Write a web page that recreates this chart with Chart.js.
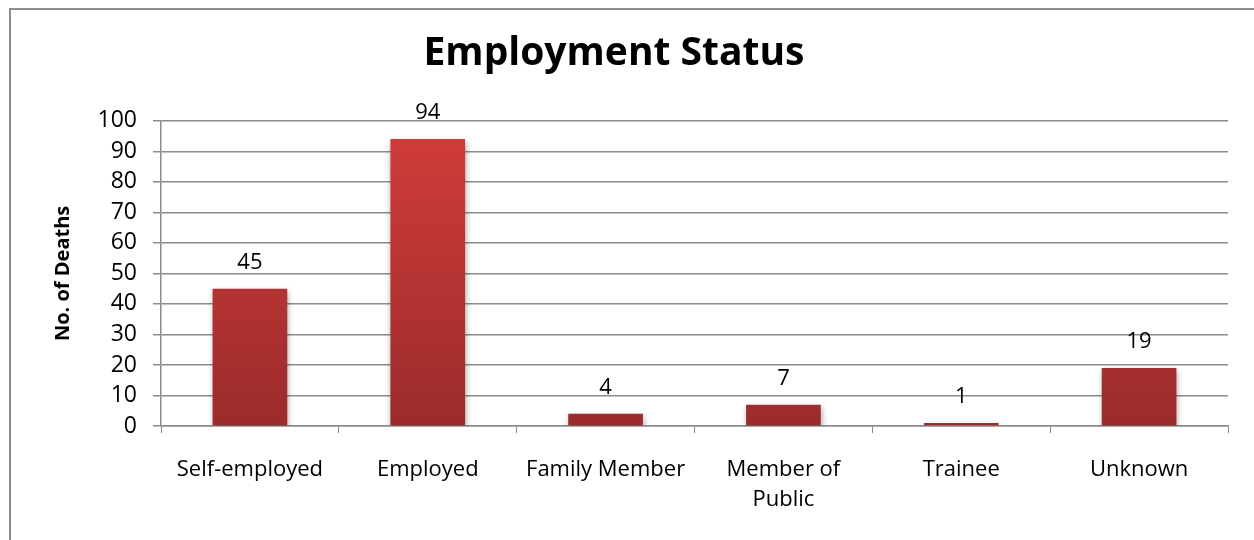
<!DOCTYPE html>
<html>
<head>
<meta charset="utf-8">
<script src="https://cdn.jsdelivr.net/npm/chart.js@4"></script>
<style>
html,body{margin:0;padding:0;background:#fff;}
#wrap{width:1254px;height:540px;position:relative;}
</style>
</head>
<body>
<div id="wrap"><canvas id="c" width="1254" height="540"></canvas></div>
<script>
const categories = ['Self-employed', 'Employed', 'Family Member', ['Member of', 'Public'], 'Trainee', 'Unknown'];
const deaths = [45, 94, 4, 7, 1, 19];
const yTicks = { min: 0, max: 100, step: 10 };
const titleText = 'Employment Status';
const yAxisTitle = 'No. of Deaths';

const FONT = "'Open Sans', 'Noto Sans', sans-serif";

const frame = {
  id: 'frame',
  beforeDraw(chart) {
    const ctx = chart.ctx;
    ctx.save();
    ctx.fillStyle = '#fff';
    ctx.fillRect(0, 0, chart.width, chart.height);
    ctx.strokeStyle = '#8c8c8c';
    ctx.lineWidth = 2;
    ctx.strokeRect(10, 9, chart.width + 20, chart.height + 20);
    ctx.restore();
  }
};

const shadow = {
  id: 'shadow',
  beforeDatasetDraw(chart) {
    const ctx = chart.ctx;
    ctx.save();
    ctx.shadowColor = 'rgba(0,0,0,0.35)';
    ctx.shadowBlur = 6;
    ctx.shadowOffsetX = 1;
    ctx.shadowOffsetY = 3;
  },
  afterDatasetDraw(chart) {
    chart.ctx.restore();
  }
};

const labels = {
  id: 'labels',
  afterDatasetsDraw(chart) {
    const ctx = chart.ctx;
    const meta = chart.getDatasetMeta(0);
    ctx.save();
    ctx.fillStyle = '#000';
    ctx.font = '22px ' + FONT;
    ctx.textAlign = 'center';
    ctx.textBaseline = 'alphabetic';
    meta.data.forEach((bar, i) => {
      ctx.fillText(String(chart.data.datasets[0].data[i]), bar.x, bar.y - 20);
    });
    ctx.restore();
  }
};

function barGradient(context) {
  const chart = context.chart;
  const area = chart.chartArea;
  if (!area) return '#c0393a';
  const el = context.element;
  const top = el && el.y != null ? el.y : area.top;
  const bottom = chart.scales.y.getPixelForValue(0);
  const g = chart.ctx.createLinearGradient(0, Math.min(top, bottom - 1), 0, bottom);
  g.addColorStop(0, '#d23d3b');
  g.addColorStop(1, '#9b2b2b');
  return g;
}

new Chart(document.getElementById('c'), {
  type: 'bar',
  data: {
    labels: categories,
    datasets: [{
      data: deaths,
      backgroundColor: barGradient,
      borderWidth: 0,
      categoryPercentage: 1,
      barPercentage: 0.42
    }]
  },
  plugins: [frame, shadow, labels],
  options: {
    responsive: false,
    animation: false,
    layout: { padding: { left: 0, right: 26, top: 0, bottom: 0 } },
    plugins: {
      legend: { display: false },
      tooltip: { enabled: false },
      title: {
        display: true,
        text: titleText,
        color: '#000',
        font: { family: FONT, size: 39, weight: 'bold', lineHeight: 1.2 },
        padding: { top: 30, bottom: 44 }
      }
    },
    scales: {
      x: {
        grid: { display: true, drawOnChartArea: false, color: '#8c8c8c', tickLength: 7, offset: true },
        border: { color: '#8c8c8c', width: 1.5 },
        ticks: { color: '#000', font: { family: FONT, size: 22, lineHeight: 1.36 }, padding: 22, maxRotation: 0, autoSkip: false },
        afterFit(s) { s.height = 114; }
      },
      y: {
        min: yTicks.min,
        max: yTicks.max,
        ticks: { stepSize: yTicks.step, autoSkip: false, color: '#000', font: { family: FONT, size: 23 }, padding: 16 },
        grid: { color: '#8c8c8c', lineWidth: 1.5, tickLength: 8 },
        border: { color: '#8c8c8c', width: 1.5 },
        title: { display: true, text: yAxisTitle, color: '#000', font: { family: FONT, size: 20, weight: 'bold', lineHeight: 1.2 }, padding: { top: 51, bottom: 0 } },
        afterFit(s) { s.width = 161; }
      }
    }
  }
});
</script>
</body>
</html>
